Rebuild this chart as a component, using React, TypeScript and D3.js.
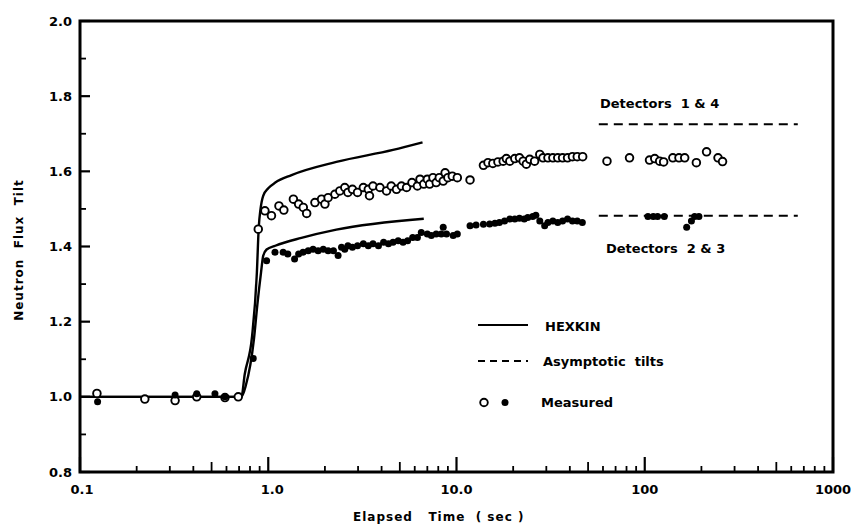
import * as d3 from "d3";

// HEXKIN calculated curves [time (s), tilt]
const hexkinUpper: [number, number][] = [
  [0.1, 1.0], [0.72, 1.0], [0.75, 1.06], [0.82, 1.16], [0.87, 1.33], [0.89, 1.45],
  [0.91, 1.5], [0.94, 1.535], [1.0, 1.555], [1.09, 1.57], [1.33, 1.59], [2.3, 1.625],
  [4.6, 1.657], [6.6, 1.677],
];
const hexkinLower: [number, number][] = [
  [0.1, 1.0], [0.72, 1.0], [0.76, 1.03], [0.84, 1.155], [0.875, 1.245], [0.915, 1.33],
  [0.94, 1.375], [0.98, 1.392], [1.09, 1.402], [1.5, 1.423], [2.3, 1.445], [6.7, 1.474],
];

// asymptotic tilts
const asymTimes = [57, 650];
const asymUpper = 1.725;
const asymLower = 1.482;

// measured, detectors 1 & 4 (open circles)
const measuredOpen: [number, number][] = [
  [0.123, 1.009], [0.221, 0.994], [0.32, 0.99], [0.417, 1.0], [0.589, 0.998], [0.693, 1.0],
  [0.885, 1.446], [0.96, 1.495], [1.04, 1.482], [1.14, 1.508], [1.21, 1.497], [1.36, 1.526],
  [1.45, 1.513], [1.535, 1.504], [1.6, 1.488], [1.77, 1.517], [1.92, 1.526], [2.0, 1.513],
  [2.08, 1.53], [2.26, 1.539], [2.4, 1.548], [2.55, 1.557], [2.65, 1.544], [2.8, 1.552],
  [2.98, 1.544], [3.2, 1.557], [3.4, 1.552], [3.45, 1.535], [3.6, 1.561], [3.92, 1.557],
  [4.25, 1.548], [4.5, 1.561], [4.8, 1.552], [5.1, 1.561], [5.43, 1.557], [5.8, 1.57],
  [6.2, 1.561], [6.4, 1.579], [6.7, 1.566], [7.0, 1.579], [7.2, 1.566], [7.5, 1.583],
  [7.8, 1.57], [8.1, 1.583], [8.5, 1.574], [8.7, 1.596], [9.0, 1.583], [9.5, 1.587],
  [10.1, 1.583], [11.8, 1.577], [13.9, 1.616], [14.7, 1.623], [15.6, 1.621], [16.6, 1.625],
  [17.7, 1.627], [18.4, 1.634], [19.2, 1.627], [20.4, 1.634], [21.6, 1.636], [22.6, 1.627],
  [23.5, 1.619], [24.5, 1.632], [26.0, 1.627], [27.7, 1.645], [28.8, 1.636], [30.6, 1.636],
  [32.5, 1.636], [34.5, 1.636], [36.6, 1.636], [38.9, 1.636], [41.3, 1.639], [43.8, 1.639],
  [46.8, 1.639], [63, 1.627], [83, 1.636], [106, 1.63], [113, 1.634], [120, 1.627],
  [126, 1.625], [141, 1.636], [152, 1.636], [163, 1.636], [188, 1.623], [213, 1.652],
  [245, 1.636], [259, 1.626],
];

// measured, detectors 2 & 3 (filled circles)
const measuredFilled: [number, number][] = [
  [0.124, 0.987], [0.32, 1.005], [0.417, 1.008], [0.521, 1.008], [0.589, 1.0], [0.832, 1.102],
  [0.98, 1.362], [1.086, 1.385], [1.2, 1.385], [1.27, 1.38], [1.38, 1.367], [1.45, 1.38],
  [1.53, 1.385], [1.63, 1.389], [1.73, 1.393], [1.84, 1.389], [1.96, 1.393], [2.08, 1.389],
  [2.22, 1.389], [2.35, 1.376], [2.45, 1.398], [2.55, 1.393], [2.65, 1.402], [2.8, 1.398],
  [2.98, 1.402], [3.2, 1.407], [3.4, 1.402], [3.6, 1.407], [3.85, 1.402], [4.1, 1.411],
  [4.35, 1.407], [4.6, 1.411], [4.9, 1.415], [5.2, 1.411], [5.5, 1.415], [5.85, 1.424],
  [6.2, 1.424], [6.5, 1.437], [7.0, 1.433], [7.35, 1.429], [7.8, 1.433], [8.3, 1.433],
  [8.5, 1.451], [8.85, 1.433], [9.6, 1.429], [10.1, 1.433], [11.8, 1.455], [12.7, 1.457],
  [13.9, 1.459], [15.0, 1.46], [16.0, 1.462], [16.9, 1.464], [18.0, 1.468], [19.2, 1.473],
  [20.4, 1.473], [21.6, 1.475], [22.9, 1.473], [23.9, 1.477], [25.4, 1.48], [26.4, 1.483],
  [27.7, 1.468], [29.4, 1.455], [30.6, 1.464], [32.5, 1.468], [34.5, 1.464], [36.6, 1.468],
  [38.9, 1.473], [41.3, 1.468], [43.8, 1.468], [46.6, 1.464], [104, 1.48], [111, 1.48],
  [117, 1.48], [127, 1.48], [167, 1.451], [177, 1.468], [184, 1.48], [194, 1.48],
];

const xMajor = [0.1, 1, 10, 100, 1000];
const xMajorLabels = ["0.1", "1.0", "10.0", "100", "1000"];
const yMajor = [0.8, 1.0, 1.2, 1.4, 1.6, 1.8, 2.0];
const yMinor = [0.9, 1.1, 1.3, 1.5, 1.7, 1.9];

const font = "'DejaVu Sans', Verdana, sans-serif";

export default function App() {
  const width = 851;
  const height = 525;
  const x = d3.scaleLog().domain([0.1, 1000]).range([80, 833]);
  const y = d3.scaleLinear().domain([0.8, 2.0]).range([472, 21]);

  const line = d3
    .line<[number, number]>()
    .x((d) => x(d[0]))
    .y((d) => y(d[1]))
    .curve(d3.curveMonotoneX);

  const xMinor: number[] = [];
  [0.1, 1, 10, 100].forEach((dec) => {
    for (let k = 2; k <= 9; k++) xMinor.push(dec * k);
  });

  const pre = { whiteSpace: "pre" as const };

  return (
    <svg
      width={width}
      height={height}
      style={{ position: "absolute", left: 0, top: 0, background: "#fff" }}
      fontFamily={font}
      fontWeight="bold"
    >
      {/* frame */}
      <rect x={80} y={21} width={753} height={451} fill="none" stroke="#000" strokeWidth={3} />

      {/* x ticks */}
      {xMajor.map((v) => (
        <line key={"xm" + v} x1={x(v)} x2={x(v)} y1={472} y2={457} stroke="#000" strokeWidth={2.2} />
      ))}
      {xMinor.map((v, i) => (
        <line
          key={"xn" + i}
          x1={x(v)}
          x2={x(v)}
          y1={472}
          y2={i % 8 === 3 ? 462 : 466}
          stroke="#000"
          strokeWidth={1.8}
        />
      ))}
      {xMajor.map((v, i) => (
        <text key={"xl" + v} x={x(v) + (i === 0 ? 2 : i === 1 ? 4 : 0)} y={494} textAnchor="middle" fontSize={13}>
          {xMajorLabels[i]}
        </text>
      ))}

      {/* y ticks */}
      {yMajor.map((v) => (
        <g key={"ym" + v}>
          <line x1={80} x2={90} y1={y(v)} y2={y(v)} stroke="#000" strokeWidth={2.2} />
          <text x={72} y={y(v) + 4.5} textAnchor="end" fontSize={13}>
            {v.toFixed(1)}
          </text>
        </g>
      ))}
      {yMinor.map((v) => (
        <line key={"yn" + v} x1={80} x2={86} y1={y(v)} y2={y(v)} stroke="#000" strokeWidth={1.8} />
      ))}

      {/* axis titles */}
      <text x={353} y={521} fontSize={12} letterSpacing={1} style={pre}>
        {"Elapsed   Time  ( sec )"}
      </text>
      <text
        transform="translate(23,250) rotate(-90)"
        textAnchor="middle"
        fontSize={12}
        letterSpacing={1}
        style={pre}
      >
        {"Neutron  Flux  Tilt"}
      </text>

      {/* HEXKIN curves */}
      <path d={line(hexkinUpper) ?? ""} fill="none" stroke="#000" strokeWidth={2.4} />
      <path d={line(hexkinLower) ?? ""} fill="none" stroke="#000" strokeWidth={2.4} />

      {/* asymptotic tilts */}
      {[asymUpper, asymLower].map((v) => (
        <line
          key={"as" + v}
          x1={x(asymTimes[0])}
          x2={x(asymTimes[1])}
          y1={y(v)}
          y2={y(v)}
          stroke="#000"
          strokeWidth={2}
          strokeDasharray="9,6"
        />
      ))}
      <text x={600} y={108} fontSize={13} style={pre}>
        {"Detectors  1 & 4"}
      </text>
      <text x={606} y={253} fontSize={13} style={pre}>
        {"Detectors  2 & 3"}
      </text>

      {/* measured */}
      {measuredOpen.map((d, i) => (
        <circle key={"mo" + i} cx={x(d[0])} cy={y(d[1])} r={3.8} fill="#fff" stroke="#000" strokeWidth={1.9} />
      ))}
      {measuredFilled.map((d, i) => (
        <circle key={"mf" + i} cx={x(d[0])} cy={y(d[1])} r={3.5} fill="#000" />
      ))}

      {/* legend */}
      <line x1={478} x2={528} y1={325} y2={325} stroke="#000" strokeWidth={2} />
      <text x={545} y={331} fontSize={13}>
        HEXKIN
      </text>
      <line x1={478} x2={528} y1={361} y2={361} stroke="#000" strokeWidth={2} strokeDasharray="7,5" />
      <text x={543} y={366} fontSize={13} style={pre}>
        {"Asymptotic  tilts"}
      </text>
      <circle cx={484} cy={402.5} r={3.8} fill="#fff" stroke="#000" strokeWidth={1.9} />
      <circle cx={505} cy={402.5} r={3.5} fill="#000" />
      <text x={541} y={407} fontSize={13}>
        Measured
      </text>
    </svg>
  );
}
